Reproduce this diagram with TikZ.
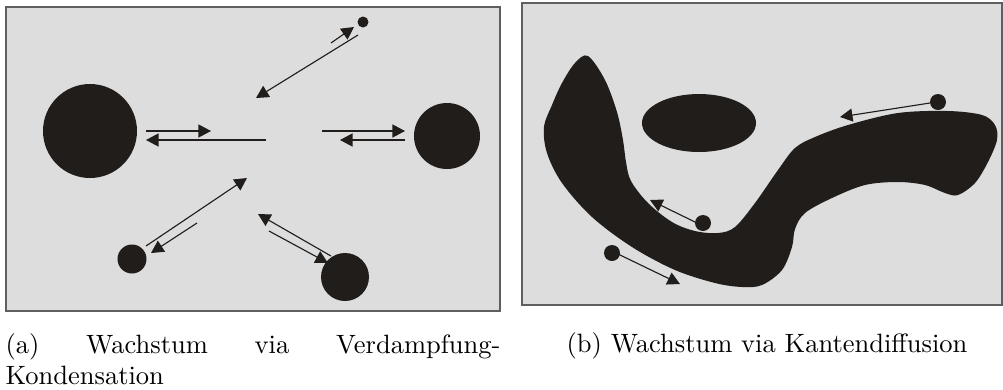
\documentclass[tikz,border=0pt]{standalone}
\usetikzlibrary{arrows.meta,shapes.geometric}
\definecolor{panelfill}{RGB}{221,221,221}
\definecolor{panelline}{RGB}{95,95,95}
\definecolor{ink}{RGB}{33,29,27}
\begin{document}
\begin{tikzpicture}[x=0.4pt,y=-0.4pt,
  panel/.style={fill=panelfill,draw=panelline,line width=0.6pt},
  blob/.style={fill=ink,draw=none},
  dot/.style={circle,fill=ink,draw=none,inner sep=0pt},
  arr/.style={draw=ink,line width=0.45pt,-{Triangle[length=5pt,width=5.2pt]}},
  captext/.style={inner sep=0pt,font=\fontsize{10.6}{12.6}\selectfont}]
\useasboundingbox (0,0) rectangle (1003,389);
% panels
\draw[panel] (6,7) rectangle (500,311);
\draw[panel] (522,3) rectangle (1002,305);

% ---- panel (a)
\node[dot,minimum size=37.6pt] (big) at (90,131) {};
\node[dot,minimum size=26.4pt] (right) at (447,136) {};
\node[dot,minimum size=11.6pt] (bl) at (132,259) {};
\node[dot,minimum size=19.2pt] (br) at (345,277) {};
\node[dot,minimum size=4.4pt] (top) at (363,22) {};

\coordinate (l1s) at (146,131); \coordinate (l1e) at (211,131);
\coordinate (l2s) at (266,140); \coordinate (l2e) at (146,140);
\coordinate (r1s) at (322,131); \coordinate (r1e) at (405,131);
\coordinate (r2s) at (405,140); \coordinate (r2e) at (340,140);
\coordinate (t1s) at (358,35);  \coordinate (t1e) at (256,98);
\coordinate (t2s) at (331,43);  \coordinate (t2e) at (354,27);
\coordinate (b1s) at (146,246); \coordinate (b1e) at (247,178);
\coordinate (b2s) at (197,223); \coordinate (b2e) at (151,253);
\coordinate (c1s) at (331,256); \coordinate (c1e) at (258,214);
\coordinate (c2s) at (269,231); \coordinate (c2e) at (328,263);

\draw[arr] (l1s) -- (l1e);
\draw[arr] (l2s) -- (l2e);
\draw[arr] (r1s) -- (r1e);
\draw[arr] (r2s) -- (r2e);
\draw[arr] (t1s) -- (t1e);
\draw[arr] (t2s) -- (t2e);
\draw[arr] (b1s) -- (b1e);
\draw[arr] (b2s) -- (b2e);
\draw[arr] (c1s) -- (c1e);
\draw[arr] (c2s) -- (c2e);

% ---- panel (b)
\fill[blob] plot[smooth cycle,tension=0.55] coordinates {
 (588,56) (605,80) (617,112) (623,140) (626,162) (631,181) (648,203)
 (672,222) (695,231) (718,233) (735,227) (755,203) (778,170) (795,148)
 (815,137) (848,125) (898,113) (948,111) (982,115) (995,125) (997,140)
 (988,162) (975,183) (958,195) (945,193) (925,185) (898,182) (865,185)
 (832,198) (805,213) (795,229) (792,247) (782,270) (762,285) (742,287)
 (715,283) (675,270) (632,247) (592,217) (562,183) (547,153) (544,127)
 (552,105) (562,83) (575,63)};
\node[blob,ellipse,minimum width=45.6pt,minimum height=23.2pt,inner sep=0pt] (oval) at (699,123) {};

\node[dot,minimum size=6.4pt] (d1) at (938,102) {};
\node[dot,minimum size=6.4pt] (d2) at (703,223) {};
\node[dot,minimum size=6.4pt] (d3) at (612,253) {};
\coordinate (e1s) at (930,103); \coordinate (e1e) at (840,117);
\coordinate (e2s) at (695,222); \coordinate (e2e) at (650,200);
\coordinate (e3s) at (618,254); \coordinate (e3e) at (680,284);
\draw[arr] (e1s) -- (e1e);
\draw[arr] (e2s) -- (e2e);
\draw[arr] (e3s) -- (e3e);

% captions
\node[captext,anchor=north west,text width=198pt,align=left] (capa) at (5,333)
  {(a)\hfill Wachstum\hfill via\hfill Verdampfung-\\Kondensation};
\node[captext,anchor=base] (capb) at (767,352) {(b) Wachstum via Kantendiffusion};
\end{tikzpicture}
\end{document}
